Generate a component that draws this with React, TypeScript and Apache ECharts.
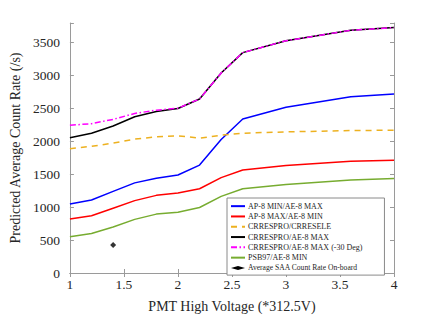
import React, { useEffect, useRef } from "react";
import * as echarts from "echarts";

const voltages = [1, 1.2, 1.4, 1.6, 1.8, 2.0, 2.2, 2.4, 2.6, 3.0, 3.6, 4.0];
const ap8MinAe8Max = [1050, 1110, 1240, 1370, 1440, 1490, 1640, 2030, 2340, 2520, 2680, 2720];
const ap8MaxAe8Min = [820, 870, 985, 1100, 1180, 1215, 1280, 1450, 1565, 1635, 1700, 1715];
const crresproCrresele = [1890, 1925, 1975, 2035, 2070, 2085, 2050, 2095, 2125, 2145, 2165, 2170];
const crresproAe8Max = [2055, 2125, 2235, 2375, 2455, 2500, 2645, 3040, 3350, 3530, 3690, 3730];
const crresproAe8Max30 = [2245, 2270, 2335, 2425, 2475, 2505, 2645, 3040, 3350, 3530, 3690, 3730];
const psb97Ae8Min = [550, 600, 700, 815, 895, 925, 995, 1165, 1280, 1345, 1415, 1435];
const saaVoltage = [1.4];
const saaRate = [425];

const xTicks = ["1", "1.5", "2", "2.5", "3", "3.5", "4"];
const yTicks = ["0", "500", "1000", "1500", "2000", "2500", "3000", "3500"];

const FONT = "Liberation Serif";
const TXT = "#262626";
const AX = "#9a9a9a";

const pair = (ys: number[]) => voltages.map((v, i) => [v, ys[i]]);

export default function App() {
  const ref = useRef<HTMLDivElement>(null);
  useEffect(() => {
    if (!ref.current) return;
    const chart = echarts.init(ref.current, undefined, { renderer: "svg" });
    const baseAxis = {
      axisLine: { show: true, lineStyle: { color: AX, width: 1 } },
      axisTick: { show: true, inside: true, length: 4, lineStyle: { color: AX } },
      splitLine: { show: false },
    };
    chart.setOption({
      animation: false,
      backgroundColor: "#ffffff",
      textStyle: { fontFamily: FONT },
      grid: { left: 57, right: 42, top: 23, bottom: 39, containLabel: false },
      xAxis: [
        {
          ...baseAxis,
          type: "value",
          min: 1,
          max: 4,
          interval: 0.5,
          position: "bottom",
          axisLabel: {
            color: TXT,
            fontFamily: FONT,
            fontSize: 13.5,
            margin: 4,
            formatter: (v: number) => xTicks[Math.round((v - 1) / 0.5)] ?? "",
          },
          name: "PMT High Voltage (*312.5V)",
          nameLocation: "middle",
          nameGap: 26,
          nameTextStyle: { color: TXT, fontFamily: FONT, fontSize: 14 },
        },
        {
          ...baseAxis,
          type: "value",
          min: 1,
          max: 4,
          interval: 0.5,
          position: "top",
          axisLabel: { show: false },
        },
      ],
      yAxis: [
        {
          ...baseAxis,
          type: "value",
          min: 0,
          max: 3800,
          interval: 500,
          position: "left",
          axisLabel: {
            color: TXT,
            fontFamily: FONT,
            fontSize: 13.5,
            margin: 10,
            formatter: (v: number) => (v % 500 === 0 ? yTicks[v / 500] ?? "" : ""),
          },
          name: "Predicted Average Count Rate (/s)",
          nameLocation: "middle",
          nameGap: 42,
          nameTextStyle: { color: TXT, fontFamily: FONT, fontSize: 14 },
        },
        {
          ...baseAxis,
          type: "value",
          min: 0,
          max: 3800,
          interval: 500,
          position: "right",
          axisLabel: { show: false },
        },
      ],
      legend: {
        orient: "vertical",
        left: 227,
        top: 198,
        backgroundColor: "#ffffff",
        borderColor: "#8a8a8a",
        borderWidth: 1,
        padding: [3, 22, 2, 3],
        itemWidth: 14,
        itemHeight: 4,
        itemGap: 0,
        itemStyle: { opacity: 0 },
        textStyle: { fontFamily: FONT, fontSize: 8, color: TXT, lineHeight: 10.3, padding: [0, 0, 0, -2] },
        data: [
          { name: "AP-8 MIN/AE-8 MAX" },
          { name: "AP-8 MAX/AE-8 MIN" },
          { name: "CRRESPRO/CRRESELE" },
          { name: "CRRESPRO/AE-8 MAX" },
          { name: "CRRESPRO/AE-8 MAX (-30 Deg)" },
          { name: "PSB97/AE-8 MIN" },
          {
            name: "Average SAA Count Rate On-board",
            textStyle: { fontSize: 7.6 },
            itemStyle: { opacity: 1, color: "#000000" },
          },
        ],
      },
      series: [
        {
          name: "AP-8 MIN/AE-8 MAX",
          type: "line",
          data: pair(ap8MinAe8Max),
          symbol: "none",
          color: "#0000ff",
          lineStyle: { color: "#0000ff", width: 1.5 },
        },
        {
          name: "AP-8 MAX/AE-8 MIN",
          type: "line",
          data: pair(ap8MaxAe8Min),
          symbol: "none",
          color: "#ff0000",
          lineStyle: { color: "#ff0000", width: 1.5 },
        },
        {
          name: "CRRESPRO/CRRESELE",
          type: "line",
          data: pair(crresproCrresele),
          symbol: "none",
          color: "#edb120",
          lineStyle: { color: "#edb120", width: 1.5, type: [6, 5] },
        },
        {
          name: "CRRESPRO/AE-8 MAX",
          type: "line",
          data: pair(crresproAe8Max),
          symbol: "none",
          color: "#000000",
          lineStyle: { color: "#000000", width: 1.5 },
        },
        {
          name: "CRRESPRO/AE-8 MAX (-30 Deg)",
          type: "line",
          data: pair(crresproAe8Max30),
          symbol: "none",
          color: "#ff00ff",
          lineStyle: { color: "#ff00ff", width: 1.5, type: [6, 2.5, 1.5, 2.5] },
        },
        {
          name: "PSB97/AE-8 MIN",
          type: "line",
          data: pair(psb97Ae8Min),
          symbol: "none",
          color: "#77ac30",
          lineStyle: { color: "#77ac30", width: 1.5 },
        },
        {
          name: "Average SAA Count Rate On-board",
          type: "scatter",
          data: saaVoltage.map((v, i) => [v, saaRate[i]]),
          symbol: "diamond",
          symbolSize: 6,
          color: "#000000",
          itemStyle: { color: "#000000" },
        },
      ],
    });
    return () => chart.dispose();
  }, []);
  return (
    <div
      ref={ref}
      style={{ position: "fixed", left: 0, top: 0, width: 436, height: 318, background: "#fff" }}
    />
  );
}
